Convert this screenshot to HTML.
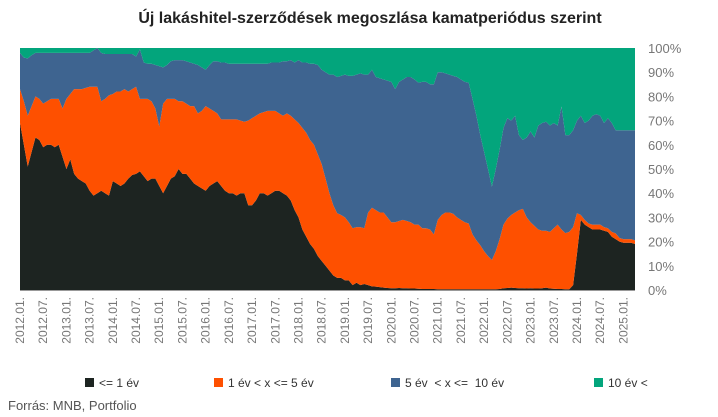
<!DOCTYPE html>
<html><head><meta charset="utf-8"><style>
body{margin:0;background:#fff;}
svg{font-family:"Liberation Sans",sans-serif;display:block;}
</style></head><body>
<svg id="c" width="718" height="417">
<text x="370" y="23" text-anchor="middle" font-size="16" font-weight="bold" fill="#222">Új lakáshitel-szerződések megoszlása kamatperiódus szerint</text>
<g id="plot"></g>
<g id="yax"></g>
<g id="xax"></g>
<g font-size="12" fill="#333">
<g><rect x="85" y="378" width="9" height="9" fill="#1d2421"/><text x="99" y="387">&lt;= 1 év</text></g>
<g><rect x="214" y="378" width="9" height="9" fill="#fe5000"/><text x="228" y="387">1 év &lt; x &lt;= 5 év</text></g>
<g><rect x="391" y="378" width="9" height="9" fill="#3e6490"/><text x="405" y="387" xml:space="preserve">5 év  &lt; x &lt;=  10 év</text></g>
<g><rect x="594" y="378" width="9" height="9" fill="#03a57c"/><text x="608" y="387">10 év &lt;</text></g>
</g>
<text x="8" y="410" font-size="13" fill="#555">Forrás: MNB, Portfolio</text>
</svg>
<script>
const black=[69,60,51,57,63,62,59,60,60,59,60,55,50,54,48,46,45,44,41,39,
40,41,40,39,45,44,43,44,46,47.5,48,49,47,45,46,46,43,40,43,46,
47,50,48,48,46,44,43,42,41,43,44,45,43,41,40,40,39,40,40,35,
35,37,40,40,39,40,41,41,40,39,37,33,30,25,22,19,17,14,12,10,
8,6,5,5,4,4,2,3,2,2.5,2,1.5,1.4,1.2,1,0.8,0.7,0.7,0.8,0.7,
0.7,0.6,0.6,0.5,0.4,0.4,0.4,0.4,0.3,0.3,0.3,0.3,0.3,0.3,0.3,0.3,0.3,0.3,0.3,0.3,
0.3,0.3,0.3,0.3,0.4,0.7,0.8,1,0.8,0.7,0.7,0.6,0.7,0.6,0.6,0.7,1,0.6,0.5,0.4,
0.4,0.3,0.3,2,15,29,27,26,25,25,25,24.5,24,22,21,20,19.5,19.5,19.5,19];
const orange=[14,18,21,19,17,17,18,18,19,20,19,20,29,27,35,37,38,39.5,43,45,
44,37,39,41.5,36,38,39,39,36,35.5,36,30,32,34,32,29,24.5,37,36,33,
32,28,30,29,30,32,30,32,35,32,30,28,27.5,29.5,30.5,30.5,31.5,30,29.5,35,
36,35,33,33.5,35,34,33,32,32,34,35,37.5,39,42,43,43,43,42,40,36,
32,29,26.7,26,26,24,23.5,23,24,23,30,32.5,31.6,30.8,31,29.2,27.3,27.3,27.7,28.3,
27.8,27.4,26.4,26.5,25.1,25.1,24.6,22.6,28.7,30.7,31.7,31.7,31.2,29.7,28.7,27.7,27.2,22.7,20.2,18.2,
15.7,13.7,12.1,15.7,20.6,26.3,28.7,30,31.2,32.3,32.8,29.4,27.3,25.9,24.4,23.8,23.5,23.4,25,26.6,
24.6,23.2,23.7,24,16.7,2,2,1.5,2,2,2,1.5,1.5,2,2.4,1.5,1.5,1.5,1.5,1.5];
const blue=[15,18,23.7,21,18,19,21,20,19,19,19,23,19,17,15,15,15,14.5,14,15,
16,20,18.5,17,16.5,15.5,15.5,14.5,15.5,14.5,12.5,20.5,15,14.5,15.5,18,25,15,14,15.5,
16,17,17,17.5,18,17.5,20,18,15,18,20.5,21.5,23.5,23.5,23,23,23,23.5,24,23.5,
22.5,21.5,20.5,20,19.5,20,20,21,22.5,21.5,23,23.5,26,27,29,31.5,33.5,37,39,44,
49,54,56.3,57.5,59,60.5,63,63,63.5,63.5,57,57,55,55.5,55,56.5,58,55,57.5,58,
59.5,60,60,58.7,60.5,60.5,60,62,61,59,57.5,57,57,58,58,58,58.2,56,51.5,45.5,
41,36,30.3,34,37,40,41.5,39,40,31,28.5,33,37.5,36.5,43,44.5,45,44,43.5,41,
50.8,40.5,40,40,38.3,41,40,42.5,45,45.7,45,43,45.5,45,42.6,44.5,45,45,45,45.5];
const teal=[2,4,4.3,3,2,2,2,2,2,2,2,2,2,2,2,2,2,2,2,1,
0,2,2.5,2.5,2.5,2.5,2.5,2.5,2.5,2.5,3.5,0.5,6,6.5,6.5,7,7.5,8,7,5.5,
5,5,5,5.5,6,6.5,7,8,9,7,5.5,5.5,6,6,6.5,6.5,6.5,6.5,6.5,6.5,
6.5,6.5,6.5,6.5,6.5,6,6,6,5.5,5.5,5,6,5,6,6,6.5,6.5,7,9,10,
11,11,12,11.5,11,11.5,11.5,11,10.5,11,11,9,12,12.5,13,13.5,14,17,14,13,
12,12,13,14.3,14,14,15,15,10,10,10.5,11,11.5,12,13,14,14.3,21,28,36,
43,50,57.3,50,42,33,29,30,28,36,38,37,34.5,37,32,31,30.5,32,31,32,
24.2,36,36,34,30,28,31,30,28,27.3,28,31,29,31,34,34,34,34,34,34];
const seriesNames=["le1","1to5","5to10","gt10"];
const seriesColors=["#1d2421","#fe5000","#3e6490","#03a57c"];
const yTicks=[0,10,20,30,40,50,60,70,80,90,100];
const startYear=2012;

const NS="http://www.w3.org/2000/svg";
const X0=20,X1=635,Y0=48,Y1=290;
const n=black.length;
const xs=i=>X0+i*(X1-X0)/(n-1);
const ys=v=>Y1-(v/100)*(Y1-Y0);
const plot=document.getElementById('plot');
const all=[black,orange,blue,teal];
let base=new Array(n).fill(0);
all.forEach((s,k)=>{
  const top=base.map((b,i)=>b+s[i]);
  let d="";
  for(let i=0;i<n;i++) d+=(i?"L":"M")+xs(i).toFixed(2)+","+ys(top[i]).toFixed(2);
  for(let i=n-1;i>=0;i--) d+="L"+xs(i).toFixed(2)+","+ys(base[i]).toFixed(2);
  const p=document.createElementNS(NS,'path');
  p.setAttribute('d',d+"Z");
  p.setAttribute('fill',seriesColors[k]);
  
  
  plot.appendChild(p);
  base=top;
});
const bl=document.createElementNS(NS,'line');
bl.setAttribute('x1',X0);bl.setAttribute('x2',X1);bl.setAttribute('y1',Y1+0.5);bl.setAttribute('y2',Y1+0.5);
bl.setAttribute('stroke','#999');


plot.appendChild(bl);
const yax=document.getElementById('yax');
yTicks.forEach(t=>{
  const tx=document.createElementNS(NS,'text');
  tx.setAttribute('x',648);tx.setAttribute('y',ys(t)+5);
  tx.setAttribute('font-size','13');tx.setAttribute('fill','#777');
  tx.textContent=t+"%";
  
  
  yax.appendChild(tx);
});
const xax=document.getElementById('xax');
for(let i=0;i<n;i+=6){
  const yr=startYear+Math.floor(i/12), mo=(i%12)+1;
  const lab=yr+"."+(mo<10?"0":"")+mo+".";
  const tx=document.createElementNS(NS,'text');
  const x=xs(i)+4;
  tx.setAttribute('transform','translate('+x.toFixed(1)+',297) rotate(-90)');
  tx.setAttribute('text-anchor','end');
  tx.setAttribute('font-size','12');tx.setAttribute('fill','#777');
  tx.textContent=lab;
  
  
  xax.appendChild(tx);
}
</script>
</body></html>
